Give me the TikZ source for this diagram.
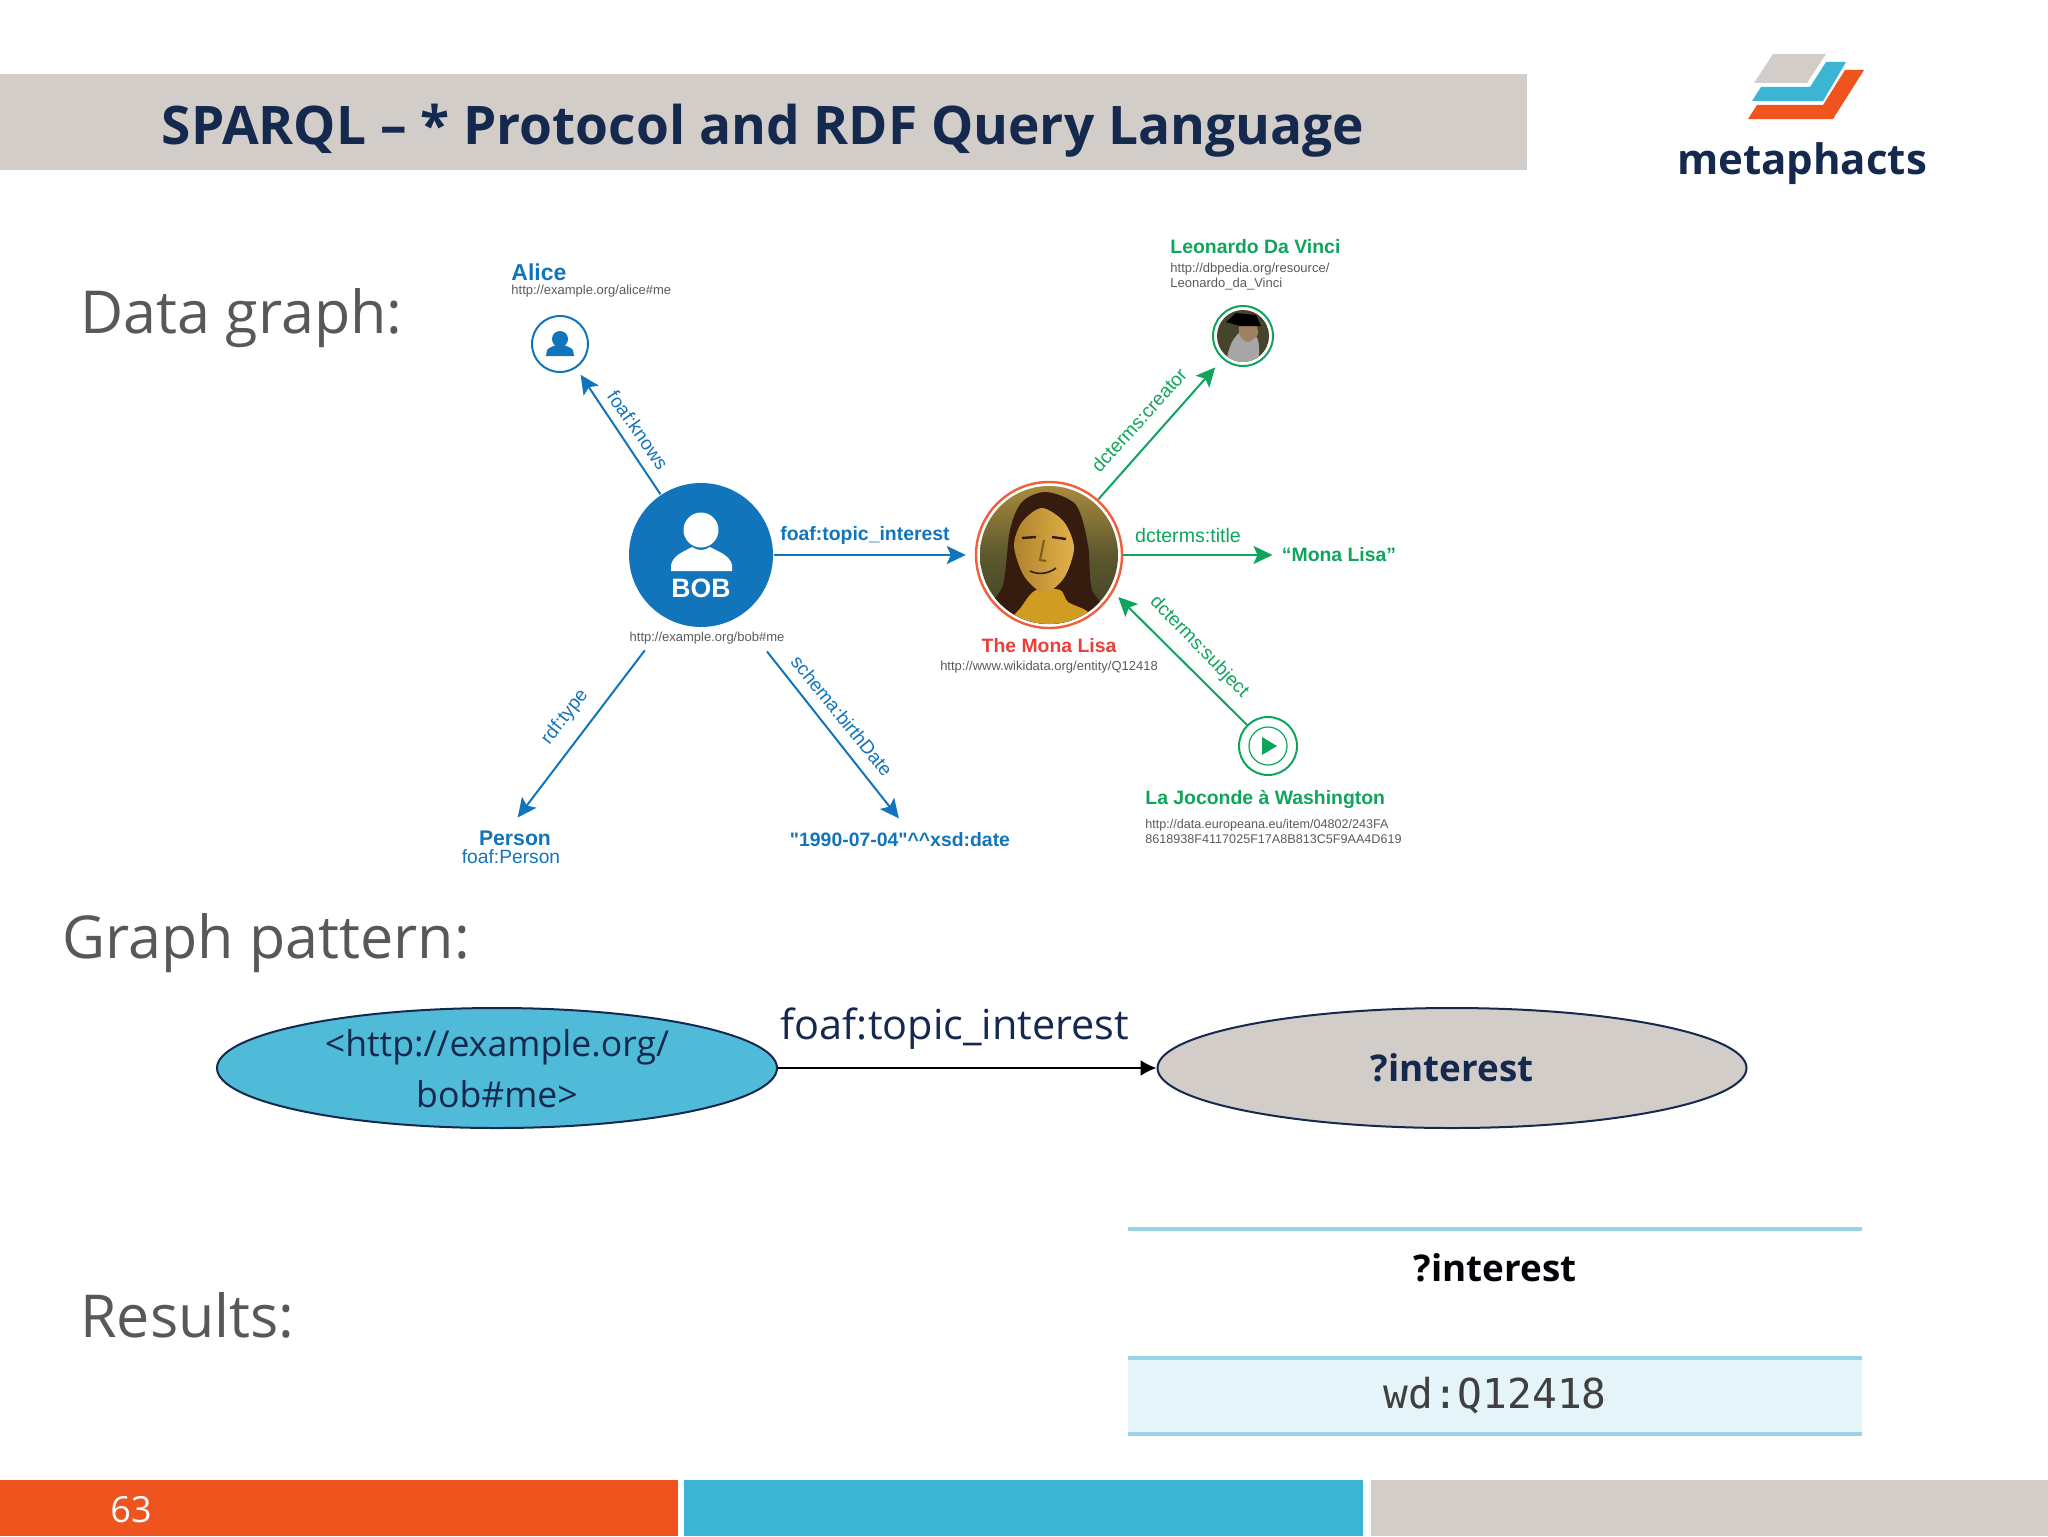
\documentclass[tikz,border=0pt]{standalone}
\usepackage{fontspec}
\setmainfont{Open Sans}
\newfontfamily\helv{Liberation Sans}
\setmonofont{DejaVu Sans Mono}
\usetikzlibrary{arrows.meta,shapes.geometric}
\definecolor{navy}{HTML}{14294D}
\definecolor{slate}{HTML}{58585A}
\definecolor{greybar}{HTML}{D2CDC9}
\definecolor{orangebar}{HTML}{F0541E}
\definecolor{bluebar}{HTML}{3CB4D4}
\definecolor{bobblue}{HTML}{1274BA}
\definecolor{leafgreen}{HTML}{0FA45C}
\definecolor{monared}{HTML}{E8403A}
\definecolor{ringred}{HTML}{EE5F3C}
\definecolor{urlgrey}{HTML}{5A5A5A}
\definecolor{rulecyan}{HTML}{9AD3E6}
\definecolor{rowcyan}{HTML}{E4F4F9}
\definecolor{skygold}{HTML}{A88A3E}
\definecolor{darkolive}{HTML}{3C4226}
\definecolor{hairbrown}{HTML}{351C0E}
\definecolor{facegold}{HTML}{E2B24A}
\definecolor{faceshade}{HTML}{B0822C}
\definecolor{chestgold}{HTML}{D09C22}
\tikzset{
  heading/.style={anchor=west,inner sep=0,text=slate,font=\fontsize{29.6}{32}\selectfont},
  patterntext/.style={inner sep=0,text=navy,font=\fontsize{17.8}{22}\selectfont},
  patternbold/.style={inner sep=0,font=\bfseries\fontsize{18.4}{22}\selectfont},
  patternnode/.style={ellipse,draw=navy,line width=1pt,inner sep=0,minimum height=60pt},
  bluearrow/.style={bobblue,line width=1pt,-{Stealth[length=9.5pt,width=9pt,inset=2pt]}},
  greenarrow/.style={leafgreen,line width=1pt,-{Stealth[length=9.5pt,width=9pt,inset=2pt]}},
  bluelabel/.style={inner sep=0,text=bobblue,font=\helv\fontsize{9.5}{10}\selectfont},
  greenlabel/.style={inner sep=0,text=leafgreen,font=\helv\fontsize{9.5}{10}\selectfont},
  namelabel/.style={inner sep=0,font=\helv\bfseries\fontsize{9.7}{11}\selectfont},
  urllabel/.style={inner sep=0,text=urlgrey,align=left,font=\helv\fontsize{6.5}{7.3}\selectfont},
  roundnode/.style={circle,inner sep=0,line width=1pt},
}
\begin{document}
\begin{tikzpicture}[x=0.5pt,y=-0.5pt]
    \useasboundingbox (0,0) rectangle (2048,1536);

    % title and logo
    \fill[greybar] (0,74) rectangle (1527,170);
    \node[inner sep=0,text=navy,font=\bfseries\fontsize{26.6}{30}\selectfont] at (763,131) (title){SPARQL -- * Protocol and RDF Query Language};
    \fill[greybar] (1773,54) -- (1826,54) -- (1807,83) -- (1754,83) -- cycle;
    \fill[bluebar] (1826,62) -- (1846,62) -- (1823,101) -- (1752,101) -- (1761,87) -- (1810,87) -- cycle;
    \fill[orangebar] (1845,70) -- (1864,70) -- (1833,119) -- (1748,119) -- (1757,105) -- (1823,105) -- cycle;
    \node[inner sep=0,text=navy,font=\bfseries\fontsize{21}{24}\selectfont] at (1802,164) (logo){metaphacts};

    % section headings
    \node[heading] at (80,318) (datahead){Data graph:};
    \node[heading] at (62,943) (patternhead){Graph pattern:};
    \node[heading] at (80,1315) (resulthead){Results:};

    % data graph nodes
    \node[roundnode,fill=bobblue,minimum size=72pt] at (701,555) (bob){};
    \fill[white] (701,530) circle (17.5);
    \fill[white] (671,571) -- (671,565) .. controls (673,555) and (685,551) .. (692,547) .. controls (698,551) and (704,551) .. (710,547) .. controls (717,551) and (730,555) .. (732,565) -- (732,571) -- cycle;
    \node[inner sep=0,text=white,font=\helv\bfseries\fontsize{13.3}{14}\selectfont] at (701,588) (bobname){BOB};
    \node[urllabel] at (707,638) (boburl){http://example.org/bob\#me};

    \node[roundnode,draw=bobblue,minimum size=28pt] at (560,344) (alice){};
    \fill[bobblue] (560,339) circle (8);
    \fill[bobblue] (546,356) -- (547,350) .. controls (549,347) and (553,347) .. (556,345) -- (564,345) .. controls (567,347) and (571,347) .. (573,350) -- (574,356) -- cycle;
    \node[namelabel,anchor=west,text=bobblue,font=\helv\bfseries\fontsize{11.5}{12}\selectfont] at (511,272) (alicename){Alice};
    \node[urllabel,anchor=west] at (511,291) (aliceurl){http://example.org/alice\#me};

    \node[namelabel,text=bobblue,font=\helv\bfseries\fontsize{10.6}{12}\selectfont] at (515,838) (person){Person};
    \node[bluelabel,font=\helv\fontsize{9.6}{10}\selectfont] at (511,857) (personurl){foaf:Person};
    \node[namelabel,text=bobblue] at (900,840) (birthdate){"1990-07-04"\^{}\^{}xsd:date};

    % mona lisa, drawn in the ring
    \node[roundnode,draw=ringred,line width=1.2pt,fill=white,minimum size=73pt] at (1049,555) (mona){};
    \begin{scope}
        \clip (1049,555) circle (69);
        \shade[top color=skygold,bottom color=darkolive,middle color=darkolive!70!skygold] (980,486) rectangle (1118,624);
        \fill[hairbrown] plot[smooth cycle] coordinates {(1046,492) (1076,505) (1088,545) (1092,590) (1112,626) (985,626) (1003,585) (1010,530) (1022,502)};
        \fill[chestgold] plot[smooth cycle] coordinates {(1010,630) (1022,606) (1036,590) (1060,590) (1068,602) (1088,612) (1094,630)};
        \shade[left color=faceshade,right color=facegold] plot[smooth cycle] coordinates {(1042,508) (1064,522) (1074,548) (1064,578) (1044,593) (1024,576) (1014,546) (1022,522)};
        \draw[hairbrown,line width=1.2pt] (1022,538) -- (1036,537) (1052,537) -- (1066,539);
        \draw[faceshade!60!hairbrown,line width=1pt] (1044,540) -- (1040,560) -- (1046,561);
        \draw[hairbrown,line width=0.8pt] (1030,571) .. controls (1038,575) and (1048,574) .. (1056,568);
    \end{scope}
    \node[namelabel,text=monared] at (1049,646) (monaname){The Mona Lisa};
    \node[urllabel] at (1049,667) (monaurl){http://www.wikidata.org/entity/Q12418};

    % leonardo, drawn in the ring
    \node[roundnode,draw=leafgreen,fill=white,minimum size=30pt] at (1243,336) (leonardo){};
    \begin{scope}
        \clip (1243,336) circle (26);
        \fill[black!65!olive] (1215,308) rectangle (1271,364);
        \fill[black!35!white] plot[smooth cycle] coordinates {(1246,328) (1258,340) (1256,364) (1228,364) (1232,342)};
        \fill[brown!50!gray] plot[smooth cycle] coordinates {(1240,324) (1254,322) (1258,334) (1248,342) (1240,336)};
        \fill[black] (1226,322) -- (1236,313) -- (1256,315) -- (1261,326) -- (1240,326) -- cycle;
    \end{scope}
    \node[namelabel,anchor=west,text=leafgreen] at (1170,247) (leoname){Leonardo Da Vinci};
    \node[urllabel,anchor=north west] at (1170,263) (leourl){http://dbpedia.org/resource/\\Leonardo\_da\_Vinci};

    \node[namelabel,text=leafgreen] at (1339,555) (monatitle){“Mona Lisa”};

    \node[roundnode,draw=leafgreen,minimum size=29pt] at (1268,746) (play){};
    \node[roundnode,draw=leafgreen,line width=0.6pt,minimum size=19pt] at (1268,746) (playinner){};
    \fill[leafgreen] (1262,737) -- (1277,746) -- (1262,755) -- cycle;
    \node[namelabel,anchor=west,text=leafgreen] at (1145,799) (playname){La Joconde à Washington};
    \node[urllabel,anchor=north west,font=\helv\fontsize{6.3}{7.4}\selectfont] at (1145,819) (playurl){http://data.europeana.eu/item/04802/243FA\\8618938F4117025F17A8B813C5F9AA4D619};

    % data graph arrows
    \draw[bluearrow,shorten >=4pt] (bob) -- (alice); %bob-alice
    \draw[bluearrow,shorten >=4.5pt] (bob) -- (mona); %bob-mona
    \draw[bluearrow,shorten <=19pt,shorten >=8pt] (bob.243) -- ([xshift=-3.5pt]person.north); %bob-person
    \draw[bluearrow,shorten <=22pt,shorten >=9pt] (bob.302) -- ([xshift=5pt]birthdate.north); %bob-date
    \draw[greenarrow,shorten >=5.5pt] (mona) -- (leonardo); %mona-leonardo
    \draw[greenarrow,shorten >=4.5pt] (mona) -- (monatitle); %mona-title
    \draw[greenarrow,shorten >=3.5pt] (play.135) -- (mona.-30); %play-mona

    % arrow labels
    \node[bluelabel,rotate=-55] at (638,430) (knows){foaf:knows};
    \node[bluelabel,font=\helv\bfseries\fontsize{9.7}{10}\selectfont] at (865,535) (topic){foaf:topic\_interest};
    \node[bluelabel,rotate=52] at (565,717) (rdftype){rdf:type};
    \node[bluelabel,rotate=-51] at (842,716) (birth){schema:birthDate};
    \node[greenlabel,rotate=48] at (1139,420) (creator){dcterms:creator};
    \node[greenlabel,font=\helv\fontsize{9.8}{10}\selectfont] at (1188,535) (dctitle){dcterms:title};
    \node[greenlabel,rotate=-46] at (1199,647) (subject){dcterms:subject};

    % graph pattern
    \node[patternnode,fill=bluebar!90!white,minimum width=280pt] at (497,1068) (subjectnode){};
    \node[patterntext] at (497,1047) (subjectone){<http://example.org/};
    \node[patterntext] at (497,1094) (subjecttwo){bob\#me>};
    \node[patternnode,patternbold,fill=greybar,minimum width=294.5pt,text=navy] at (1452,1068) (interestnode){?interest};
    \draw[black,line width=1pt,-{Latex[length=8pt,width=8pt]}] (subjectnode) -- (interestnode); %s-o
    \node[patterntext,font=\fontsize{20.7}{24}\selectfont] at (955,1029) (predicate){foaf:topic\_interest};

    % results table
    \fill[rowcyan] (1128,1358) rectangle (1862,1434);
    \draw[rulecyan,line width=1.6pt] (1128,1229) -- (1862,1229);
    \draw[rulecyan,line width=1.6pt] (1128,1358) -- (1862,1358);
    \draw[rulecyan,line width=1.6pt] (1128,1434) -- (1862,1434);
    \node[patternbold,text=black!90!navy] at (1495,1268) (colhead){?interest};
    \node[inner sep=0,text=black!75,font=\ttfamily\fontsize{20.6}{24}\selectfont] at (1495,1396) (cellvalue){wd:Q12418};

    % bottom bars
    \fill[orangebar] (0,1480) rectangle (678,1536);
    \fill[bluebar] (684,1480) rectangle (1363,1536);
    \fill[greybar] (1371,1480) rectangle (2048,1536);
    \node[inner sep=0,text=white,font=\fontsize{18}{20}\selectfont] at (131,1510) (pagenum){63};
\end{tikzpicture}
\end{document}
